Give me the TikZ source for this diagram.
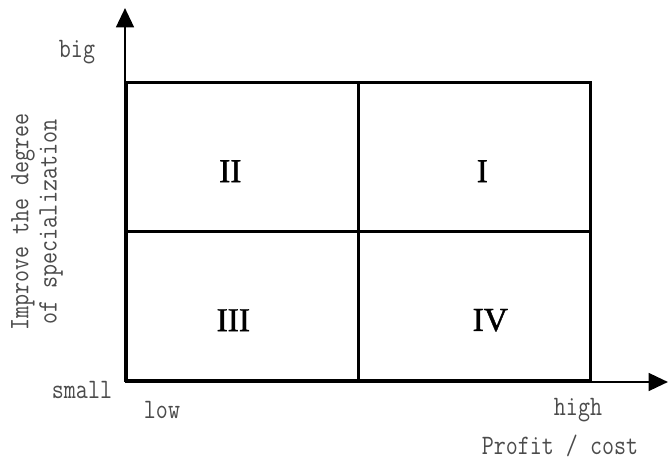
\documentclass[tikz,border=0pt]{standalone}
\usepackage{fontspec}
\setmainfont{Liberation Serif}
\newfontfamily\fonterotulo[FakeStretch=0.83]{Latin Modern Mono}
\newfontfamily\fontenumero[FakeBold=1.3]{Liberation Serif}
\usepackage{tikz}
\usetikzlibrary{arrows.meta, positioning}
\usepackage{xcolor}
\definecolor{meucinza}{RGB}{75, 75, 75}

\begin{document}
\begin{tikzpicture}[
    eixo/.style={
        line width=1.6pt,
        -{Triangle[length=11pt,width=10pt]}
    },
    celula/.style={
        draw,
        line width=1.5pt,
        minimum width=4.64cm,
        minimum height=2.98cm,
        anchor=south west
    },
    numero/.style={
        font=\fontenumero\fontsize{19}{21}\selectfont
    },
    rotulo/.style={
        text=meucinza,
        font=\fonterotulo\fontsize{16}{16}\selectfont,
        inner sep=1pt
    }
]

\useasboundingbox (0,0) rectangle (13.4,9.18);

% ---------------- Eixos ----------------

\coordinate (origem) at (2.5,1.54);
\coordinate (topoY) at (2.5,9.02);
\coordinate (fimX) at (13.36,1.54);

\draw[eixo] (origem) -- (topoY);
\draw[eixo] (origem) -- (fimX);

% ---------------- Quadrantes ----------------

\node[celula] (q3) at (2.5,1.54) {};
\node[celula] (q4) at (7.14,1.54) {};
\node[celula] (q2) at (2.5,4.52) {};
\node[celula] (q1) at (7.14,4.52) {};

\node[numero] (n2) at ([xshift=-0.24cm,yshift=-0.28cm]q2.center) {II};
\node[numero] (n1) at ([xshift=0.16cm,yshift=-0.28cm]q1.center) {I};
\node[numero] (n3) at ([xshift=-0.18cm,yshift=-0.28cm]q3.center) {III};
\node[numero] (n4) at ([xshift=0.32cm,yshift=-0.28cm]q4.center) {IV};

% ---------------- Rotulos ----------------

\node[rotulo] (big) at (1.54,8.14) {big};
\node[rotulo] (small) at (1.64,1.38) {small};
\node[rotulo] (low) at (3.24,0.98) {low};
\node[rotulo] (high) at (11.56,0.98) {high};

\node[rotulo] (lucro) at (11.2,0.26) {Profit / cost};

\node[
    rotulo,
    rotate=90,
    align=center
] (grau) at (0.74,4.74)
{
    Improve the degree\\
    of specialization
};

\end{tikzpicture}
\end{document}
